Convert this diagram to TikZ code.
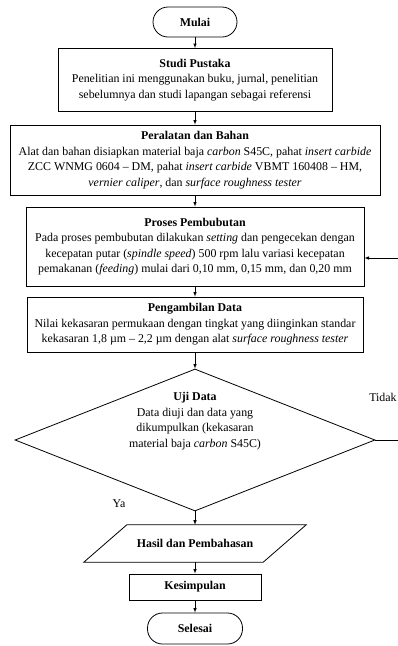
\documentclass[tikz,border=0pt]{standalone}
\usepackage{fontspec}
\setmainfont{Liberation Serif}
\usetikzlibrary{shapes.geometric}

\tikzset{
	kotak/.style={draw,rectangle,align=center,inner sep=0pt,line width=0.8pt},
	ujung/.style={draw,rectangle,rounded corners=15pt,inner sep=0pt,line width=0.8pt,font=\fontsize{11.9}{15.5}\selectfont\bfseries},
	panah/.style={-latex,line width=0.6pt},
}

\begin{document}
\begin{tikzpicture}[x=1pt,y=-1pt,font=\fontsize{11.9}{15.5}\selectfont]
		\useasboundingbox (0,0) rectangle (398,646);
		
		\node[ujung,minimum width=84pt,minimum height=30pt] (mulai) at (195,22) {Mulai};
		
		\node[kotak,minimum width=274pt,minimum height=63pt] (studi) at (195,80) {\textbf{Studi Pustaka}\\
			Penelitian ini menggunakan buku, jurnal, penelitian\\
			sebelumnya dan studi lapangan sebagai referensi};
		
		\node[kotak,minimum width=370pt,minimum height=70pt] (alat) at (195,160) {\textbf{Peralatan dan Bahan}\\
			Alat dan bahan disiapkan material baja \textit{carbon} S45C, pahat \textit{insert carbide}\\
			ZCC WNMG 0604 -- DM, pahat \textit{insert carbide} VBMT 160408 -- HM,\\
			\textit{vernier caliper}, dan \textit{surface roughness tester}};
		
		\node[kotak,minimum width=338pt,minimum height=79pt] (proses) at (195,246.5) {\textbf{Proses Pembubutan}\\
			Pada proses pembubutan dilakukan \textit{setting} dan pengecekan dengan\\
			kecepatan putar (\textit{spindle speed}) 500 rpm lalu variasi kecepatan\\
			pemakanan (\textit{feeding}) mulai dari 0,10 mm, 0,15 mm, dan 0,20 mm};
		
		\node[kotak,minimum width=336pt,minimum height=55pt] (ambil) at (195,324.5) {\textbf{Pengambilan Data}\\
			Nilai kekasaran permukaan dengan tingkat yang diinginkan standar\\
			kekasaran 1,8 µm -- 2,2 µm dengan alat \textit{surface roughness tester}};
		
		\node[draw,diamond,aspect=2.5,inner sep=0pt,minimum width=360pt,minimum height=142pt,line width=0.8pt] (uji) at (195,440) {};
		\node[align=center,inner sep=0pt] (ujiteks) at (195,421) {\textbf{Uji Data}\\
			Data diuji dan data yang\\
			dikumpulkan (kekasaran\\
			material baja \textit{carbon} S45C)};
		
		\node[minimum width=179pt,minimum height=37pt,inner sep=0pt,font=\fontsize{11.9}{15.5}\selectfont\bfseries] (hasil) at (195,543.5) {Hasil dan Pembahasan};
		\draw[line width=0.8pt] ([xshift=-21.5pt]hasil.south west) -- ([xshift=-21.5pt]hasil.south east) -- ([xshift=21.5pt]hasil.north east) -- ([xshift=21.5pt]hasil.north west) -- cycle;
		
		\node[kotak,minimum width=132pt,minimum height=26pt,font=\fontsize{11.9}{15.5}\selectfont\bfseries] (kesim) at (195,587) {Kesimpulan};
		
		\node[ujung,minimum width=95pt,minimum height=31pt] (selesai) at (195,628.5) {Selesai};
		
		\node (ya) at (119,504) {Ya};
		\node (tidak) at (383,397) {Tidak};
		
		\foreach \a/\b in {mulai/studi,studi/alat,alat/proses,proses/ambil,ambil/uji,uji/hasil,hasil/kesim,kesim/selesai}{
			\draw[panah] (\a) -- (\b);
		}
		
		\coordinate (balik1) at (410,440);
		\coordinate (balik2) at (410,258);
		\draw[panah] (uji.east) -- (balik1) -- (balik2) -- (proses.east |- balik2);
\end{tikzpicture}
\end{document}
